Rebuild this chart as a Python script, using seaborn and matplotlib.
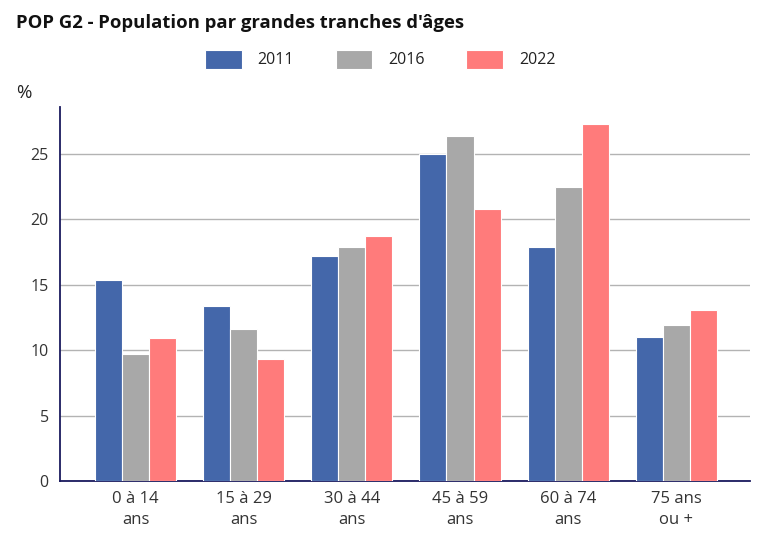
import pandas as pd
import matplotlib
matplotlib.use('Agg')
import matplotlib.pyplot as plt
import seaborn as sns

# values (%)
age_groups = ['0 à 14\nans', '15 à 29\nans', '30 à 44\nans', '45 à 59\nans', '60 à 74\nans', '75 ans\nou +']
years = ['2011', '2016', '2022']
pop_2011 = [15.4, 13.4, 17.2, 25.0, 17.9, 11.0]
pop_2016 = [9.7, 11.6, 17.9, 26.4, 22.5, 11.9]
pop_2022 = [10.9, 9.3, 18.7, 20.8, 27.3, 13.1]

colors = ['#4467aa', '#a8a8a8', '#ff7b7b']


def build_frame():
    rows = []
    for year, vals in zip(years, [pop_2011, pop_2016, pop_2022]):
        for grp, v in zip(age_groups, vals):
            rows.append({'age': grp, 'year': year, 'pct': v})
    return pd.DataFrame(rows)


df = build_frame()

sns.set_style('white')
plt.rcParams['font.family'] = ['Open Sans', 'DejaVu Sans']

fig = plt.figure(figsize=(7.68, 5.37), dpi=100)
ax = fig.add_axes([0.078, 0.1043, 0.899, 0.6964])

sns.barplot(data=df, x='age', y='pct', hue='year', palette=colors, saturation=1,
            width=0.75, edgecolor='white', linewidth=0.8, ax=ax, zorder=3)

ax.set_ylim(0, 28.6)
ax.set_xlim(-0.70, 5.685)
ax.set_yticks([0, 5, 10, 15, 20, 25])
ax.yaxis.grid(True, color='#b3b3b3', linewidth=1)
ax.set_axisbelow(True)

for side in ['top', 'right']:
    ax.spines[side].set_visible(False)
for side in ['left', 'bottom']:
    ax.spines[side].set_color('#1a1a5e')
    ax.spines[side].set_linewidth(1.3)

ax.tick_params(axis='y', length=0, labelsize=11.5, colors='#333333', pad=8)
ax.tick_params(axis='x', length=0, labelsize=12, colors='#333333', pad=7)
for lbl in ax.get_xticklabels():
    lbl.set_linespacing(1.45)
ax.set_xlabel('')
ax.set_ylabel('')

handles, labels = ax.get_legend_handles_labels()
ax.legend_.remove()
fig.legend(handles, labels, loc='center', bbox_to_anchor=(0.495, 0.890), ncol=3,
           frameon=False, fontsize=11.5, handlelength=2.3, handleheight=1.45,
           handletextpad=1.0, columnspacing=2.6, labelcolor='#222222')

fig.text(0.021, 0.958, "POP G2 - Population par grandes tranches d'âges",
         fontsize=13.3, fontweight='bold', color='#111111', va='center')
fig.text(0.021, 0.827, '%', fontsize=13.5, color='#222222', va='center')

fig.savefig('out.png', dpi=100)
